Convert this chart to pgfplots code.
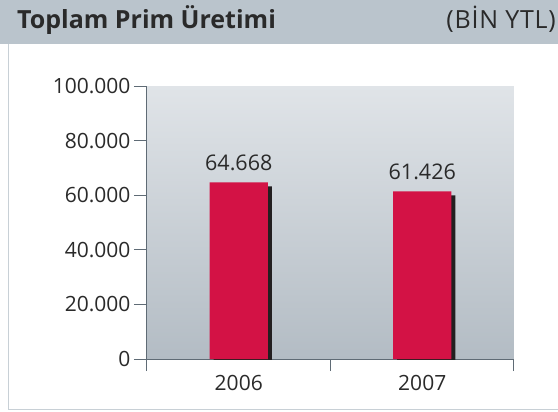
\documentclass[border=0pt]{standalone}
\usepackage{pgfplots}
\pgfplotsset{compat=1.18}
\usepackage{fontspec}
\setmainfont{Open Sans}
\definecolor{hdr}{HTML}{BAC4CC}
\definecolor{barred}{HTML}{D31245}
\definecolor{shadowc}{HTML}{231F20}
\definecolor{axc}{HTML}{5F6B75}
\definecolor{txt}{HTML}{2A2A2A}
\definecolor{bgtop}{HTML}{E0E4E8}
\definecolor{bgbot}{HTML}{B3BCC4}
\begin{document}
\begin{tikzpicture}[x=1pt,y=1pt]
\path[use as bounding box] (0,0) rectangle (558,-412);
\fill[hdr] (0,0) rectangle (558,-44);
\draw[hdr!80, line width=1.5pt] (8.5,-44) -- (8.5,-409.5) -- (558,-409.5);
\node[anchor=base west, font=\fontsize{25}{28}\selectfont\bfseries, text=txt, inner sep=0] at (17,-29) {Toplam Prim Üretimi};
\node[anchor=base east, font=\fontsize{25}{28}\selectfont\addfontfeature{LetterSpace=3}, text=txt, inner sep=0] at (556,-29) {(BİN YTL)};
\begin{axis}[
 at={(147pt,-359pt)}, anchor=south west,
 scale only axis, width=367pt, height=273pt,
 xmin=-0.5, xmax=1.5, ymin=0, ymax=100000,
 axis lines*=left,
 axis line style={axc, line width=1pt},
 xtick={0,1}, xticklabels={2006,2007},
 minor xtick={-0.5,0.5,1.5},
 ytick={0,20000,40000,60000,80000,100000},
 tick align=outside,
 major tick length=13pt, minor tick length=12pt,
 tick style={axc, line width=1pt},
 every major x tick/.append style={draw=none},
 ticklabel style={font=\fontsize{21}{25}\selectfont, text=txt},
 scaled y ticks=false,
 /pgf/number format/fixed,
 /pgf/number format/1000 sep={.},
 /pgf/number format/assume math mode=true,
 axis background/.style={shade, top color=bgtop, bottom color=bgbot},
]
\addplot[ybar, fill=shadowc, draw=none, bar width=58pt, bar shift=4pt, yshift=-4pt] coordinates {(0,64668) (1,61426)};
\addplot[ybar, fill=barred, draw=none, bar width=58pt, bar shift=0pt, nodes near coords, every node near coord/.append style={font=\fontsize{21.5}{25}\selectfont, text=txt, anchor=base, yshift=12pt}] coordinates {(0,64668) (1,61426)};
\end{axis}
\end{tikzpicture}
\end{document}
